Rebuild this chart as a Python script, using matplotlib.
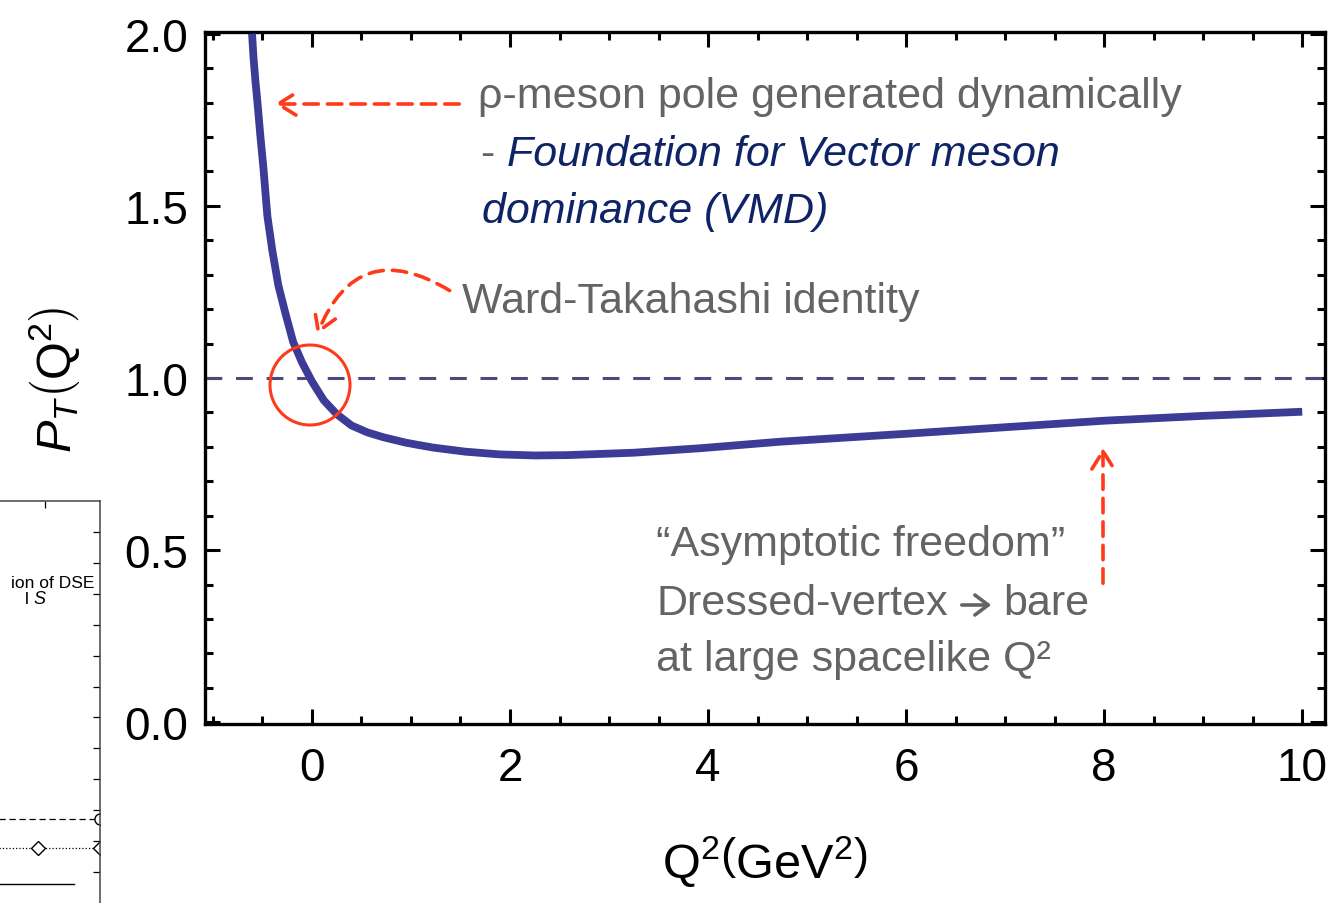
import matplotlib
matplotlib.use("Agg")
import matplotlib.pyplot as plt
from matplotlib.patches import Circle, FancyArrowPatch
from matplotlib.ticker import MultipleLocator

# ---- data ----
q2 = [-0.605, -0.59, -0.57, -0.55, -0.52, -0.49, -0.45, -0.40, -0.34, -0.27,
      -0.19, -0.10, 0.0, 0.12, 0.25, 0.40, 0.56, 0.72, 0.95, 1.22, 1.55,
      1.9, 2.25, 2.58, 3.25, 3.92, 4.73, 6.0, 7.0, 8.0, 9.0, 10.0]
pt = [2.0, 1.93, 1.86, 1.80, 1.70, 1.61, 1.47, 1.37, 1.27, 1.19,
      1.105, 1.045, 0.99, 0.935, 0.895, 0.862, 0.842, 0.828, 0.812, 0.798, 0.786,
      0.778, 0.775, 0.776, 0.783, 0.796, 0.815, 0.838, 0.857, 0.876, 0.89, 0.902]
ref_level = 1.0
x_ticks = [0, 2, 4, 6, 8, 10]
y_ticks = [0.0, 0.5, 1.0, 1.5, 2.0]

plt.rcParams['font.family'] = ['Liberation Sans', 'DejaVu Sans']
plt.rcParams['mathtext.fontset'] = 'custom'
plt.rcParams['mathtext.rm'] = 'Liberation Sans'
plt.rcParams['mathtext.it'] = 'Liberation Sans:italic'

W, H = 1334, 904
fig = plt.figure(figsize=(W / 100, H / 100), dpi=100)

def fx(px):
    return px / W

def fy(py):
    return 1 - py / H

# ---- main axes ----
L, R, T, B = 205, 1325, 33, 725
ax = fig.add_axes([fx(L), fy(B), fx(R) - fx(L), fy(T) - fy(B)])
ax.set_xlim(-1.08, 10.23)
ax.set_ylim(-0.005, 2.005)

ax.plot(q2, pt, color='#3c3c96', lw=5.6, solid_capstyle='butt',
        solid_joinstyle='round', zorder=3)
ax.axhline(ref_level, color='#4a4a7c', lw=2.2, dashes=(5.5, 4.5), zorder=2)

ax.set_xticks(x_ticks)
ax.set_yticks(y_ticks)
ax.set_yticklabels([f"{v:.1f}" for v in y_ticks])
ax.xaxis.set_minor_locator(MultipleLocator(0.5))
ax.yaxis.set_minor_locator(MultipleLocator(0.1))
ax.tick_params(which='both', direction='in', top=True, right=True, width=2.2,
               labelsize=33, color='black')
ax.tick_params(which='major', length=11)
ax.tick_params(which='minor', length=6)
ax.tick_params(axis='x', which='major', pad=16)
ax.tick_params(axis='y', which='major', pad=12)
for s in ax.spines.values():
    s.set_linewidth(2.4)

ax.set_xlabel(r'$\mathrm{Q}^2\left(\mathrm{GeV}^2\right)$', fontsize=35)
ax.set_ylabel(r'$P_T\left(\mathrm{Q}^2\right)$', fontsize=35)
ax.xaxis.set_label_coords((765 - L) / (R - L), -(834 - B) / (B - T))
ax.yaxis.set_label_coords(-(L - 82) / (R - L), (B - 380) / (B - T))

# ---- annotations ----
gray = '#646464'
navy = '#0f2466'
red = '#ff3a1a'
tf = ['Liberation Sans', 'DejaVu Sans']
fs = 31

def ftext(px, py, s, **kw):
    fig.text(fx(px), fy(py), s, fontsize=kw.pop('fontsize', fs),
             family=kw.pop('family', tf), va='center', ha='left', **kw)

ftext(478, 97, "ρ-meson pole generated dynamically", color=gray)
ftext(480, 155, "-", color=gray)
ftext(507, 155, "Foundation for Vector meson", color=navy, style='italic')
ftext(482, 212, "dominance (VMD)", color=navy, style='italic')
ftext(462, 302, "Ward-Takahashi identity", color=gray)
ftext(656, 545, "\u201cAsymptotic freedom\u201d", color=gray)
ftext(656, 604, "Dressed-vertex", color=gray)
ftext(1003, 604, "bare", color=gray)
ftext(656, 660, "at large spacelike Q\u00b2", color=gray)

# the "→" between "Dressed-vertex" and "bare"
fig.patches.append(FancyArrowPatch((fx(959), fy(606)), (fx(994), fy(606)),
                                   transform=fig.transFigure,
                                   arrowstyle='->,head_length=6,head_width=4.5',
                                   color=gray, lw=2.6, mutation_scale=1.6))

# arrows (figure pixel coordinates)
def fig_arrow(p0, p1, rad=0.0):
    a = FancyArrowPatch((fx(p0[0]), fy(p0[1])), (fx(p1[0]), fy(p1[1])),
                        transform=fig.transFigure, arrowstyle='->,head_length=8,head_width=5',
                        connectionstyle=f'arc3,rad={rad}', color=red, lw=2.6,
                        linestyle=(0, (4, 2.5)), mutation_scale=1.6)
    fig.patches.append(a)

fig_arrow((462, 105), (272, 105))
fig_arrow((452, 293), (316, 338), rad=0.6)
fig_arrow((1103, 587), (1103, 446))

circ = Circle((310 / 100, (H - 386) / 100), radius=0.40,
              transform=fig.dpi_scale_trans, fill=False, edgecolor=red, lw=2.2)
fig.patches.append(circ)

# ---- partial neighbouring chart at left edge ----
ax2 = fig.add_axes([-0.2, 0.0, fx(100) + 0.2, fy(502)])
ax2.set_xlim(0, 10)
ax2.set_ylim(0, 13)
ax2.plot([0, 10], [2.72, 2.72], color='black', lw=0.9, dashes=(5, 3))
ax2.plot([10], [2.72], marker='o', mfc='white', mec='black', ms=8)
ax2.plot([0, 10], [1.78, 1.78], color='black', lw=0.9, ls=':')
ax2.plot([8.3, 10], [1.78, 1.78], marker='D', mfc='white', mec='black', ms=7, ls='none')
ax2.plot([0, 9.3], [0.61, 0.61], color='black', lw=1.0)
ax2.text(9.85, 10.38, "ion of DSE", fontsize=12.5, ha='right', va='center')
ax2.text(8.2, 9.85, "l ", fontsize=12.5, ha='right', va='center')
ax2.text(8.2, 9.85, "S", fontsize=13, style='italic', ha='left', va='center')
ax2.set_yticks(range(1, 13))
ax2.set_yticklabels([])
ax2.set_xticks([8.5])
ax2.set_xticklabels([])
ax2.tick_params(which='both', direction='in', right=True, left=False,
                top=True, bottom=False, length=5, width=0.9)
for s in ['left', 'bottom']:
    ax2.spines[s].set_visible(False)
for s in ['right', 'top']:
    ax2.spines[s].set_linewidth(1.1)
    ax2.spines[s].set_color('#444444')

fig.savefig('out.png', dpi=100)
